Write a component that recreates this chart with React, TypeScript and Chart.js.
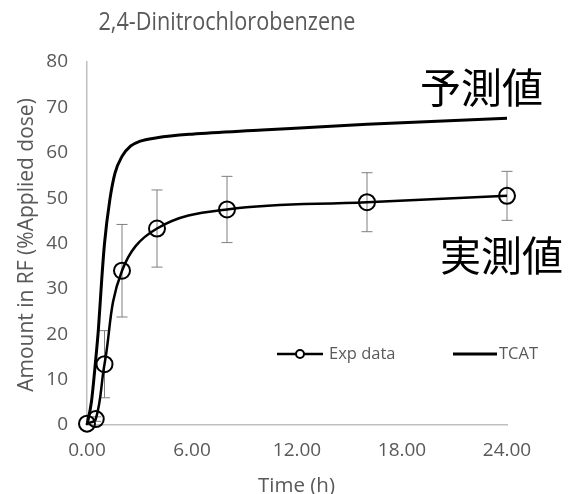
import React, { useEffect, useRef } from "react";
import { Chart, registerables } from "chart.js";

Chart.register(...registerables);

const chartTitle = "2,4-Dinitrochlorobenzene";
const xAxisTitle = "Time (h)";
const yAxisTitle = "Amount in RF (%Applied dose)";
const expLabel = "Exp data";
const tcatLabel = "TCAT";
const predictedLabel = "予測値";
const measuredLabel = "実測値";

const expTime = [0, 0.5, 1, 2, 4, 8, 16, 24];
const expValue = [0.3, 1.3, 13.4, 34.0, 43.3, 47.5, 49.1, 50.5];
const expError = [0, 0.5, 7.4, 10.2, 8.5, 7.3, 6.5, 5.4];

const tcatTime = [0, 0.25, 0.5, 0.65, 0.84, 1, 1.3, 1.6, 2, 2.5, 3, 4, 6, 10, 16, 24];
const tcatValue = [0, 5, 14.5, 21, 32, 40, 49.5, 55.5, 59.2, 61.5, 62.5, 63.3, 64.1, 65.0, 66.3, 67.6];

const xTicks = [0, 6, 12, 18, 24];
const yTicks = [0, 10, 20, 30, 40, 50, 60, 70, 80];

const FONT = "'Open Sans', sans-serif";
const CJK = "'Noto Sans CJK JP', sans-serif";
const GREY_TEXT = "#595959";

function fitText(ctx: any, text: string, cx: number, y: number, size: number, width: number) {
  ctx.save();
  ctx.font = `${size}px ${FONT}`;
  const w = ctx.measureText(text).width;
  const k = width / w;
  ctx.translate(cx, y);
  ctx.scale(k, 1);
  ctx.textAlign = "center";
  ctx.fillText(text, 0, 0);
  ctx.restore();
}

const overlay = {
  id: "overlay",
  beforeDatasetsDraw(chart: any) {
    const ctx = chart.ctx;
    const xs = chart.scales.x;
    const ys = chart.scales.y;
    ctx.save();
    ctx.strokeStyle = "#7f7f7f";
    ctx.lineWidth = 1;
    for (let i = 0; i < expTime.length; i++) {
      const e = expError[i];
      if (!e) continue;
      const x = xs.getPixelForValue(expTime[i]);
      const yt = ys.getPixelForValue(expValue[i] + e);
      const yb = ys.getPixelForValue(expValue[i] - e);
      ctx.beginPath();
      ctx.moveTo(x, yt);
      ctx.lineTo(x, yb);
      ctx.moveTo(x - 5.5, yt);
      ctx.lineTo(x + 5.5, yt);
      ctx.moveTo(x - 5.5, yb);
      ctx.lineTo(x + 5.5, yb);
      ctx.stroke();
    }
    ctx.restore();
  },
  afterDraw(chart: any) {
    const ctx = chart.ctx;
    ctx.save();
    // chart title
    ctx.fillStyle = GREY_TEXT;
    ctx.textBaseline = "alphabetic";
    fitText(ctx, chartTitle, 227, 29.5, 26, 257);
    // x axis title
    ctx.font = `20.5px ${FONT}`;
    ctx.textAlign = "center";
    ctx.fillText(xAxisTitle, 296.5, 492);
    // y axis title
    ctx.save();
    ctx.translate(27, 245);
    ctx.rotate(-Math.PI / 2);
    ctx.font = `21px ${FONT}`;
    ctx.textAlign = "center";
    ctx.textBaseline = "middle";
    ctx.fillText(yAxisTitle, 0, 0);
    ctx.restore();
    // legend
    ctx.strokeStyle = "#000";
    ctx.lineWidth = 2.5;
    ctx.beginPath();
    ctx.moveTo(277, 354);
    ctx.lineTo(323, 354);
    ctx.stroke();
    ctx.fillStyle = "#fff";
    ctx.lineWidth = 2;
    ctx.beginPath();
    ctx.arc(300, 354, 4, 0, Math.PI * 2);
    ctx.fill();
    ctx.stroke();
    ctx.lineWidth = 3;
    ctx.beginPath();
    ctx.moveTo(453, 354);
    ctx.lineTo(497, 354);
    ctx.stroke();
    ctx.fillStyle = GREY_TEXT;
    ctx.font = `16.5px ${FONT}`;
    ctx.textAlign = "left";
    ctx.textBaseline = "alphabetic";
    ctx.fillText(expLabel, 329, 359);
    ctx.fillText(tcatLabel, 499, 359);
    // annotations
    ctx.fillStyle = "#000";
    ctx.font = `41px ${CJK}`;
    ctx.textBaseline = "middle";
    ctx.fillText(predictedLabel, 420, 87.5);
    ctx.fillText(measuredLabel, 440, 255.5);
    ctx.restore();
  },
};

export default function App() {
  const ref = useRef<HTMLCanvasElement | null>(null);
  useEffect(() => {
    if (!ref.current) return;
    const chart = new Chart(ref.current, {
      type: "line",
      data: {
        datasets: [
          {
            label: tcatLabel,
            data: tcatTime.map((t, i) => ({ x: t, y: tcatValue[i] })),
            borderColor: "#000",
            borderWidth: 3,
            pointRadius: 0,
            cubicInterpolationMode: "monotone",
            clip: false,
          } as any,
          {
            label: expLabel,
            data: expTime.map((t, i) => ({ x: t, y: expValue[i] })),
            borderColor: "#000",
            borderWidth: 2.5,
            pointRadius: 8,
            pointBorderWidth: 2,
            pointBackgroundColor: "rgba(0,0,0,0)",
            pointBorderColor: "#000",
            tension: 0.4,
            clip: false,
          } as any,
        ],
      },
      options: {
        animation: false,
        responsive: false,
        maintainAspectRatio: false,
        devicePixelRatio: 1,
        layout: { padding: { left: 0, right: 66, top: 62, bottom: 0 } },
        plugins: { legend: { display: false }, title: { display: false }, tooltip: { enabled: false } },
        scales: {
          x: {
            type: "linear",
            min: 0,
            max: 24,
            afterBuildTicks: (s: any) => {
              s.ticks = xTicks.map((v) => ({ value: v }));
            },
            afterFit: (s: any) => {
              s.height = 69;
            },
            grid: { display: false, drawTicks: false },
            border: { display: true, color: "#bfbfbf", width: 1.5 },
            ticks: {
              padding: 14,
              color: GREY_TEXT,
              font: { family: FONT, size: 19 },
              callback: (v: any) => Number(v).toFixed(2),
              maxRotation: 0,
            },
          },
          y: {
            type: "linear",
            min: 0,
            max: 80,
            afterBuildTicks: (s: any) => {
              s.ticks = yTicks.map((v) => ({ value: v }));
            },
            afterFit: (s: any) => {
              s.width = 87;
            },
            grid: { display: false, drawTicks: false },
            border: { display: true, color: "#bfbfbf", width: 1.5 },
            ticks: {
              padding: 19,
              color: GREY_TEXT,
              font: { family: FONT, size: 19 },
            },
          },
        },
      },
      plugins: [overlay],
    });
    return () => chart.destroy();
  }, []);
  return (
    <div style={{ position: "fixed", left: 0, top: 0, width: 573, height: 494, background: "#fff" }}>
      <canvas ref={ref} width={573} height={494} style={{ display: "block" }} />
    </div>
  );
}
